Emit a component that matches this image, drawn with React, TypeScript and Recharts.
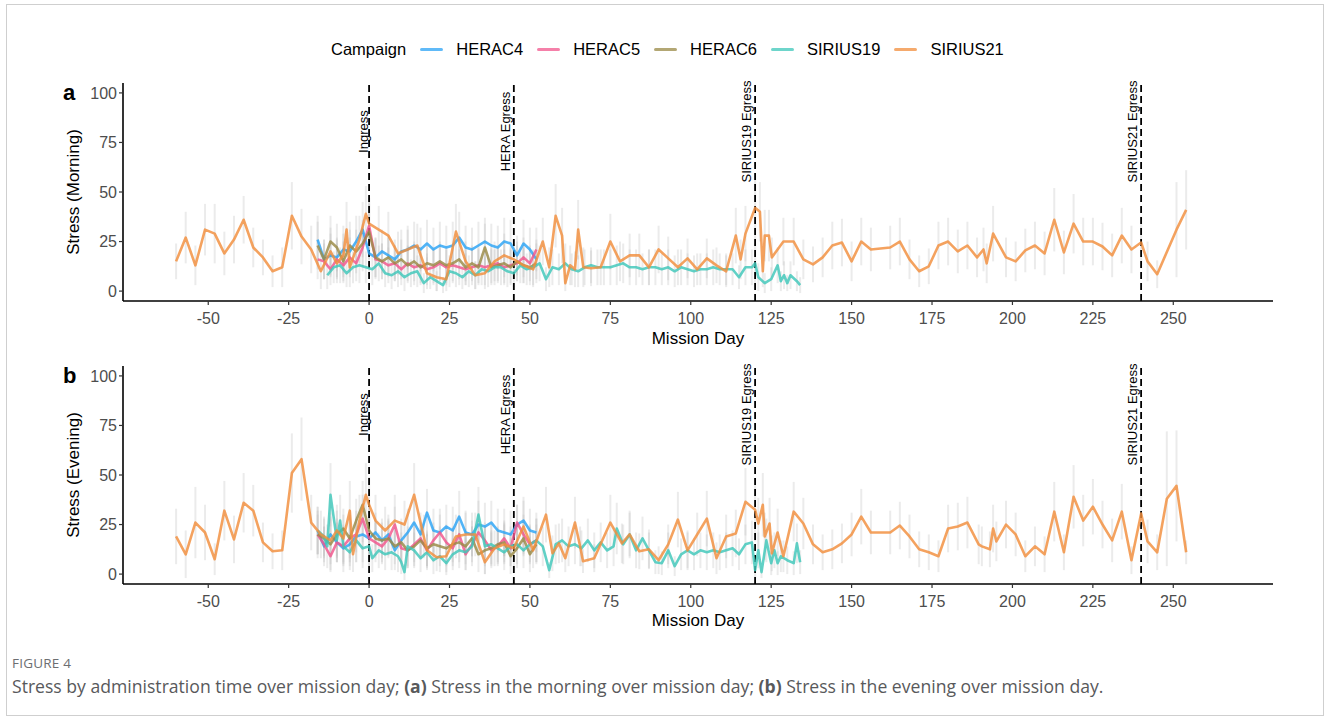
import React from 'react';
import { LineChart, Line, XAxis, YAxis, ErrorBar, ReferenceLine, ReferenceDot } from 'recharts';

const FONT = '"Liberation Sans", Arial, Helvetica, sans-serif';

const campaigns = ['HERAC4', 'HERAC5', 'HERAC6', 'SIRIUS19', 'SIRIUS21'];
const campaignColors = ['#2BA3F5', '#F2568C', '#9A8A45', '#3EC7BA', '#F28D3C'];

const xTicks = [-50, -25, 0, 25, 50, 75, 100, 125, 150, 175, 200, 225, 250];
const yTicks = [0, 25, 50, 75, 100];
const eventDays = [0, 45, 120, 240];
const eventLabels = ['Ingress', 'HERA Egress', 'SIRIUS19 Egress', 'SIRIUS21 Egress'];

// HERA campaigns (days relative to ingress)
const heraDays = [-16, -14, -12, -10, -8, -6, -4, -2, 0, 2, 4, 6, 8, 10, 12, 14, 16, 18, 20, 22, 24, 26, 28, 30, 32, 34, 36, 38, 40, 42, 44, 46, 48, 50, 52];
const herac4Morning = [26, 16, 18, 17, 21, 20, 25, 31, 19, 17, 20, 18, 16, 20, 21, 23, 21, 24, 21, 23, 22, 23, 27, 22, 21, 23, 25, 23, 22, 25, 24, 18, 24, 21, 16];
const herac5Morning = [16, 15, 11, 16, 13, 17, 14, 22, 33, 16, 15, 13, 14, 11, 14, 12, 13, 11, 12, 14, 12, 13, 12, 11, 12, 13, 12, 13, 14, 12, 13, 14, 17, 14, 21];
const herac6Morning = [23, 16, 25, 22, 15, 23, 20, 24, 30, 17, 15, 17, 14, 16, 13, 15, 12, 14, 13, 15, 13, 14, 16, 12, 14, 12, 22, 12, 13, 14, 12, 15, 13, 12, 14];
const herac4Evening = [22, 14, 20, 16, 13, 15, 19, 20, 18, 21, 17, 20, 12, 17, 21, 26, 20, 31, 22, 21, 24, 22, 29, 21, 20, 25, 24, 26, 22, 21, 20, 25, 27, 22, 21];
const herac5Evening = [20, 15, 9, 16, 14, 18, 20, 28, 18, 16, 14, 18, 25, 13, 12, 15, 18, 12, 17, 21, 16, 13, 20, 10, 15, 21, 17, 12, 14, 18, 13, 26, 20, 15, 17];
const herac6Evening = [20, 18, 15, 20, 23, 18, 27, 35, 22, 18, 17, 18, 14, 16, 12, 14, 17, 13, 15, 14, 13, 15, 16, 14, 18, 10, 12, 13, 15, 16, 9, 13, 18, 10, 15];
const herac4Err = [12, 10, 11, 10, 12, 11, 13, 14, 11, 10, 11, 10, 10, 11, 12, 12, 11, 12, 11, 12, 11, 12, 13, 11, 11, 12, 12, 11, 11, 12, 12, 10, 12, 11, 10];
const herac5Err = [10, 9, 8, 10, 9, 10, 9, 12, 14, 10, 9, 9, 9, 8, 9, 9, 9, 8, 9, 9, 9, 9, 9, 8, 9, 9, 9, 9, 9, 9, 9, 9, 10, 9, 11];
const herac6Err = [12, 10, 13, 12, 10, 12, 11, 12, 14, 10, 9, 10, 9, 10, 9, 10, 9, 9, 9, 10, 9, 9, 10, 9, 9, 9, 12, 9, 9, 10, 9, 10, 9, 9, 10];

// SIRIUS19
const s19MorningDays = [-13, -11, -9, -7, -5, -3, -1, 1, 3, 5, 7, 9, 11, 13, 15, 17, 19, 21, 23, 25, 27, 29, 31, 33, 35, 37, 39, 41, 43, 45, 47, 49, 51, 53, 55, 57, 59, 61, 63, 65, 67, 69, 71, 73, 75, 77, 79, 81, 83, 85, 87, 89, 91, 93, 95, 97, 99, 101, 103, 105, 107, 109, 111, 113, 115, 117, 119, 120, 121, 123, 125, 127, 128, 129, 130, 131, 133, 134];
const s19Morning = [8, 12, 13, 9, 12, 13, 12, 11, 14, 9, 8, 10, 7, 9, 10, 4, 7, 5, 3, 10, 9, 7, 10, 8, 11, 10, 12, 12, 10, 9, 13, 11, 12, 14, 6, 12, 11, 14, 11, 10, 12, 13, 12, 12, 12, 13, 14, 12, 12, 11, 12, 12, 11, 12, 10, 12, 11, 10, 11, 11, 12, 11, 11, 11, 7, 12, 12, 14, 7, 4, 6, 13, 5, 8, 4, 8, 5, 3];
const s19MorningErr = [7, 8, 9, 7, 8, 9, 8, 8, 9, 7, 7, 8, 7, 7, 8, 5, 6, 5, 4, 8, 7, 6, 8, 7, 8, 8, 9, 9, 8, 7, 9, 8, 9, 9, 6, 9, 8, 10, 8, 8, 9, 9, 9, 9, 9, 10, 10, 9, 9, 8, 9, 9, 8, 9, 8, 9, 8, 8, 8, 8, 9, 8, 8, 8, 6, 9, 9, 10, 7, 5, 6, 9, 5, 7, 4, 7, 5, 4];
const s19EveningDays = [-16, -14, -13, -12, -10, -9, -8, -6, -4, -2, 0, 1, 3, 5, 7, 9, 10, 11, 12, 14, 16, 18, 20, 22, 24, 26, 28, 30, 32, 34, 36, 38, 40, 42, 44, 46, 48, 50, 52, 54, 56, 58, 60, 62, 64, 66, 68, 70, 72, 74, 76, 77, 79, 81, 83, 85, 87, 89, 91, 93, 95, 97, 99, 101, 103, 105, 107, 109, 111, 113, 115, 117, 119, 120, 121, 122, 123.5, 125, 126, 127, 128, 130, 132, 133, 134];
const s19Evening = [22, 19, 14, 40, 17, 27, 14, 11, 17, 13, 14, 8, 12, 10, 11, 9, 6, 1, 14, 12, 8, 11, 7, 9, 5.5, 10, 12, 11, 14, 30, 14, 15, 13, 11, 14, 15, 12, 15, 17, 14, 2, 15, 17, 14, 15, 13, 17, 12, 16, 12, 14, 23, 15, 20, 12, 18, 12, 6, 5.5, 12, 4, 10, 12, 10, 12, 11, 12, 11, 12, 13, 10, 15, 16, 2, 12, 1, 17, 5.5, 12, 5.5, 9, 7, 5.5, 15.5, 6];
const s19EveningErr = [12, 10, 11, 16, 11, 13, 10, 9, 11, 10, 10, 7, 9, 8, 9, 8, 6, 4, 10, 9, 7, 9, 7, 8, 6, 8, 9, 9, 10, 14, 10, 10, 9, 9, 10, 10, 9, 10, 11, 10, 4, 10, 11, 10, 10, 9, 11, 9, 10, 9, 10, 13, 10, 12, 9, 11, 9, 6, 6, 9, 5, 8, 9, 8, 9, 9, 9, 9, 9, 9, 8, 10, 11, 4, 9, 3, 11, 6, 9, 6, 8, 7, 6, 10, 6];

// SIRIUS21
const s21MorningDays = [-60, -57, -54, -51, -48, -45, -42, -39, -36, -33, -30, -27, -24, -21, -18, -15, -12, -10, -8, -7, -6, -3, -1, 0, 3, 6, 9, 12, 15, 18, 21, 24, 27, 30, 33, 36, 39, 42, 45, 48, 51, 54, 56, 58, 60, 61, 62.5, 64, 65, 66.6, 69, 72, 75, 78, 81, 84, 87, 90, 93, 96, 99, 102, 105, 108, 111, 114, 115.5, 117, 120, 121.5, 122.4, 123, 124.3, 125.2, 128.8, 132, 135, 138, 141, 144, 147, 150, 153, 156, 162, 165, 168, 171, 174, 177, 180, 183, 186, 189, 191, 192, 194, 198, 201, 204, 207, 210, 213, 216, 219, 222, 225, 228, 231, 234, 237, 240, 242, 245, 251, 254];
const s21Morning = [15, 27, 13, 31, 29, 19, 26, 36, 22, 17, 10, 12, 38, 27.5, 21, 10, 20, 14, 18, 31, 12, 26, 39, 34, 31, 28, 19, 21, 23, 9, 7, 6, 30, 15, 8, 9, 15, 18, 16, 13, 11, 25, 12, 38, 28, 4, 13, 11, 31, 12, 11.5, 12, 25, 15, 18, 18, 12, 21, 16.5, 12, 16.5, 11, 16.5, 13, 10, 28, 16, 29, 42, 40, 10, 28, 28, 17, 25, 25, 16, 13.5, 17, 23, 24.5, 15, 25, 21, 22, 25, 16, 10, 12.5, 23, 25, 20, 23, 17, 21, 14, 29, 17, 15, 20.5, 23, 19, 36, 19.5, 34, 25, 25, 22.5, 18, 28, 21, 24.5, 15, 8.5, 31, 41];
const s21MorningErr = [9, 13, 10, 13, 15, 11, 12, 12, 10, 9, 8, 10, 17, 14, 12, 9, 12, 10, 11, 14, 10, 12, 14, 13, 12, 12, 11, 10, 11, 8, 7, 6, 14, 10, 7, 8, 10, 11, 10, 9, 9, 12, 10, 16, 14, 4, 10, 9, 15, 10, 9, 9, 14, 10, 11, 11, 9, 12, 11, 9, 10, 8, 10, 9, 8, 14, 10, 14, 16, 15, 8, 13, 13, 10, 12, 12, 10, 9, 10, 12, 12, 10, 12, 11, 11, 12, 10, 8, 9, 12, 12, 11, 12, 10, 11, 10, 14, 10, 10, 11, 12, 11, 16, 11, 15, 12, 12, 12, 11, 14, 12, 13, 10, 7, 24, 20];
const s21EveningDays = [-60, -57, -54, -51, -48, -45, -42, -39, -36, -33, -30, -27, -24, -21, -18, -15, -12, -10, -8, -6, -5, -3, -1, 0, 2, 5, 8, 11, 14, 17, 18, 21, 24, 27, 30, 33, 36, 39, 42, 45, 48, 51, 55, 57, 59, 61, 64, 65.6, 66.5, 70, 75, 78.6, 81, 84, 87, 90, 93, 96, 99, 102, 105, 108, 111, 114, 117, 120, 121, 122.4, 123, 124.5, 125.2, 127, 128.8, 132, 135, 138, 141, 144, 147, 150, 153, 156, 162, 165, 168, 171, 174, 177, 180, 183, 186, 189.5, 190.5, 193, 194, 195, 198, 201, 204, 207, 210, 213, 216, 219, 222, 225, 228, 231, 234, 237, 240, 242, 245, 248, 251, 254];
const s21Evening = [19, 10, 26, 21, 7.5, 32, 17.5, 36, 32, 16, 11.5, 12, 51, 58, 26, 20, 17, 22, 18, 32, 10, 27, 40, 35, 27, 22, 27, 25, 40, 19, 12, 8.5, 9, 19, 20, 20, 6, 13, 15, 13, 24, 12, 30, 10.5, 15.5, 8, 26, 14, 6.5, 8, 26, 15.5, 20, 11.5, 12.5, 7, 15, 27.5, 12, 20, 28, 8, 19, 20.5, 36.5, 32.5, 25.5, 35, 19, 25.5, 10.5, 21, 9, 31.5, 25.5, 15, 11, 12.5, 15.5, 20, 29, 21, 21, 24.5, 19, 12.5, 11, 9, 23, 24, 26, 15, 14, 12.5, 23, 16.5, 25, 20, 9, 14, 10, 31.5, 11, 39, 27, 34, 25, 17, 31.5, 7, 30.5, 16.5, 11, 38, 44.5, 11];
const s21EveningErr = [14, 12, 18, 14, 8, 15, 12, 15, 13, 10, 9, 10, 20, 21, 14, 12, 12, 13, 12, 15, 9, 13, 16, 14, 13, 12, 13, 12, 16, 11, 9, 7, 8, 11, 11, 11, 6, 9, 10, 9, 13, 9, 14, 9, 10, 7, 13, 10, 6, 7, 14, 10, 11, 9, 10, 7, 10, 14, 10, 11, 14, 8, 11, 12, 17, 16, 13, 16, 12, 13, 9, 12, 8, 15, 13, 10, 9, 10, 10, 11, 14, 11, 11, 12, 11, 9, 9, 8, 12, 12, 13, 10, 10, 9, 12, 10, 12, 11, 8, 10, 9, 15, 9, 16, 13, 14, 12, 11, 14, 7, 14, 11, 9, 34, 28, 6];

type Pt = { day: number; v: number; e: number };
const zip = (days: number[], vals: number[], errs: number[]): Pt[] =>
  days.map((d, i) => ({ day: d, v: vals[i], e: errs[i] }));

const morningData: Pt[][] = [
  zip(heraDays, herac4Morning, herac4Err),
  zip(heraDays, herac5Morning, herac5Err),
  zip(heraDays, herac6Morning, herac6Err),
  zip(s19MorningDays, s19Morning, s19MorningErr),
  zip(s21MorningDays, s21Morning, s21MorningErr),
];
const eveningData: Pt[][] = [
  zip(heraDays, herac4Evening, herac4Err),
  zip(heraDays, herac5Evening, herac5Err),
  zip(heraDays, herac6Evening, herac6Err),
  zip(s19EveningDays, s19Evening, s19EveningErr),
  zip(s21EveningDays, s21Evening, s21EveningErr),
];

const labelDx = [-1, -4, -4, -4];

function makeLabelShape(text: string, dx: number) {
  return (p: any) => {
    const x = p.cx + dx;
    const y = p.cy;
    return (
      <text
        x={x}
        y={y}
        transform={`rotate(-90 ${x} ${y})`}
        textAnchor="middle"
        fontSize={13}
        fontFamily={FONT}
        fill="#000"
      >
        {text}
      </text>
    );
  };
}

function Panel({ data, marginTop, height, layer }: { data: Pt[][]; marginTop: number; height: number; layer: 'errors' | 'lines' }) {
  const lines = layer === 'lines';
  return (
    <LineChart width={1330} height={height} margin={{ top: marginTop, right: 57, bottom: 0, left: 0 }}>
      <XAxis
        type="number"
        dataKey="day"
        domain={[-76.5, 281]}
        ticks={xTicks}
        allowDataOverflow
        interval={0}
        height={38}
        tick={lines ? { fill: '#4D4D4D', fontSize: 16, fontFamily: FONT } : false}
        tickLine={lines ? { stroke: '#333', strokeWidth: 1.2 } : false}
        axisLine={lines ? { stroke: '#000', strokeWidth: 1.6 } : false}
        tickSize={4}
        tickMargin={8}
      />
      <YAxis
        type="number"
        domain={[-5, 105]}
        ticks={yTicks}
        allowDataOverflow
        interval={0}
        width={123}
        tick={lines ? { fill: '#4D4D4D', fontSize: 16, fontFamily: FONT } : false}
        tickLine={lines ? { stroke: '#333', strokeWidth: 1.2 } : false}
        axisLine={lines ? { stroke: '#000', strokeWidth: 1.6 } : false}
        tickSize={4}
        tickMargin={2}
      />
      {lines &&
        eventDays.map((d) => (
          <ReferenceLine key={`rl${d}`} x={d} stroke="#000" strokeWidth={1.8} strokeDasharray="7 4" />
        ))}
      {data.map((pts, i) =>
        lines ? (
          <Line
            key={campaigns[i]}
            data={pts}
            dataKey="v"
            name={campaigns[i]}
            type="linear"
            stroke={campaignColors[i]}
            strokeWidth={2.6}
            strokeOpacity={0.82}
            strokeLinejoin="round"
            dot={false}
            activeDot={false}
            isAnimationActive={false}
          />
        ) : (
          <Line
            key={campaigns[i]}
            data={pts}
            dataKey="v"
            name={campaigns[i]}
            type="linear"
            stroke="none"
            dot={false}
            activeDot={false}
            isAnimationActive={false}
          >
            <ErrorBar dataKey="e" width={0} stroke="#bdbdbd" strokeOpacity={0.3} strokeWidth={2} direction="y" isAnimationActive={false} />
          </Line>
        )
      )}
      {lines &&
        eventDays.map((d, i) => (
          <ReferenceDot key={`rd${d}`} x={d} y={80.5} r={0} shape={makeLabelShape(eventLabels[i], labelDx[i])} />
        ))}
    </LineChart>
  );
}

export default function App() {
  return (
    <div style={{ position: 'absolute', left: 0, top: 0, width: 1330, height: 720, background: '#fff', overflow: 'hidden' }}>
      <div style={{ position: 'absolute', left: 6, top: 4, width: 1318, height: 712, border: '1px solid #cfcfcf', boxSizing: 'border-box' }} />

      <div style={{ position: 'absolute', left: 0, top: 0 }}>
        <Panel data={morningData} marginTop={83} height={339} layer="errors" />
      </div>
      <div style={{ position: 'absolute', left: 0, top: 0 }}>
        <Panel data={morningData} marginTop={83} height={339} layer="lines" />
      </div>
      <div style={{ position: 'absolute', left: 0, top: 283 }}>
        <Panel data={eveningData} marginTop={83} height={339} layer="errors" />
      </div>
      <div style={{ position: 'absolute', left: 0, top: 283 }}>
        <Panel data={eveningData} marginTop={83} height={339} layer="lines" />
      </div>

      <svg width={1330} height={720} style={{ position: 'absolute', left: 0, top: 0, pointerEvents: 'none' }}>
        <text x={63} y={100} fontFamily={FONT} fontWeight="bold" fontSize={22} fill="#000">a</text>
        <text x={63} y={383} fontFamily={FONT} fontWeight="bold" fontSize={22} fill="#000">b</text>
        <text x={79} y={192} transform="rotate(-90 79 192)" textAnchor="middle" fontFamily={FONT} fontSize={17} fill="#000">Stress (Morning)</text>
        <text x={79} y={475} transform="rotate(-90 79 475)" textAnchor="middle" fontFamily={FONT} fontSize={17} fill="#000">Stress (Evening)</text>
        <text x={698} y={343.5} textAnchor="middle" fontFamily={FONT} fontSize={17} fill="#000">Mission Day</text>
        <text x={698} y={626} textAnchor="middle" fontFamily={FONT} fontSize={17} fill="#000">Mission Day</text>
      </svg>

      <div style={{ position: 'absolute', left: 331, top: 39, height: 20, display: 'flex', alignItems: 'center', fontFamily: FONT, fontSize: 16.5, color: '#000', whiteSpace: 'nowrap' }}>
        <span>Campaign</span>
        {campaigns.map((c, i) => (
          <React.Fragment key={c}>
            <span style={{ display: 'inline-block', width: 23, height: 3, background: campaignColors[i], opacity: 0.75, marginLeft: 14, marginRight: 13, borderRadius: 1.5 }} />
            <span>{c}</span>
          </React.Fragment>
        ))}
      </div>

      <div style={{ position: 'absolute', left: 12, top: 654, fontFamily: '"Open Sans", "Noto Sans", sans-serif', fontSize: 13.5, color: '#6d6e71', letterSpacing: 0.2 }}>
        FIGURE 4
      </div>
      <div style={{ position: 'absolute', left: 12, top: 674, fontFamily: '"Open Sans", "Noto Sans", sans-serif', fontSize: 17.6, color: '#58595b', whiteSpace: 'nowrap' }}>
        Stress by administration time over mission day; <b>(a)</b> Stress in the morning over mission day; <b>(b)</b> Stress in the evening over mission day.
      </div>
    </div>
  );
}
